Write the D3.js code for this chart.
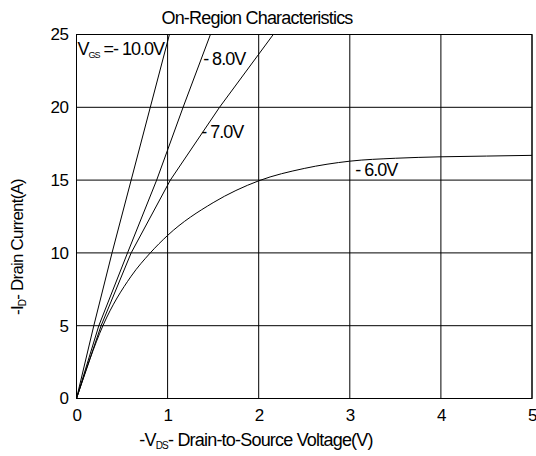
<!DOCTYPE html>
<html>
<head>
<meta charset="utf-8">
<script src="https://cdn.jsdelivr.net/npm/d3@7"></script>
<style>
  body { margin: 0; background: #fff; }
  text { font-family: "Liberation Sans", Arial, sans-serif; fill: #000; }
</style>
</head>
<body>
<div id="chart"></div>
<script>
// curves: [Vds, Id]
var vgs10 = [[0, 0], [0.19, 5], [0.39, 10], [0.60, 15], [0.81, 20], [1.02, 25]];
var vgs8 = [[0, 0], [0.245, 5], [0.56, 10], [0.88, 15], [1.17, 20], [1.47, 25]];
var vgs7 = [[0, 0], [0.27, 5], [0.60, 10], [1.03, 15], [1.57, 20], [2.16, 25]];
var vgs6 = [[0, 0], [0.29, 5], [0.6, 8.4], [0.81, 10], [1, 11.2], [1.5, 13.45], [2, 14.95], [2.5, 15.8],
            [3, 16.3], [3.5, 16.5], [4, 16.6], [4.5, 16.65], [5, 16.7]];
var xTicks = [0, 1, 2, 3, 4, 5];
var yTicks = [0, 5, 10, 15, 20, 25];
var labels = [
    { v: 1.39, i: 22.9, text: "- 8.0V" },
    { v: 1.37, i: 17.9, text: "- 7.0V" },
    { v: 3.06, i: 15.3, text: "- 6.0V" }
];

var width = 536, height = 456;
var pLeft = 76.5, pRight = 532, pTop = 34.5, pBottom = 398.5;

var svg = d3.select("#chart").append("svg")
    .attr("width", width)
    .attr("height", height);

var x = d3.scaleLinear().domain([0, 5]).range([pLeft, pRight]);
var y = d3.scaleLinear().domain([0, 25]).range([pBottom, pTop]);

// grid
svg.append("g").selectAll("line")
    .data(xTicks)
    .enter().append("line")
    .attr("x1", function (d) { return x(d); })
    .attr("x2", function (d) { return x(d); })
    .attr("y1", pTop).attr("y2", pBottom)
    .attr("stroke", "#000").attr("stroke-width", 1);
svg.append("g").selectAll("line")
    .data(yTicks)
    .enter().append("line")
    .attr("y1", function (d) { return y(d); })
    .attr("y2", function (d) { return y(d); })
    .attr("x1", pLeft).attr("x2", pRight)
    .attr("stroke", "#000").attr("stroke-width", 1);

// axes (labels only)
svg.append("g")
    .attr("transform", "translate(0," + pBottom + ")")
    .call(d3.axisBottom(x).tickValues(xTicks).tickFormat(d3.format("d")).tickSize(0).tickPadding(10));
svg.append("g")
    .attr("transform", "translate(" + pLeft + ",0)")
    .call(d3.axisLeft(y).tickValues(yTicks).tickFormat(d3.format("d")).tickSize(0).tickPadding(8));
svg.selectAll(".domain").remove();
svg.selectAll(".tick text")
    .style("font-family", "'Liberation Sans', Arial, sans-serif")
    .style("font-size", "17px")
    .style("letter-spacing", "-0.5px")
    .attr("fill", "#000");

// curves
var line = d3.line()
    .x(function (d) { return x(d[0]); })
    .y(function (d) { return y(d[1]); });
var curvy = d3.line()
    .curve(d3.curveMonotoneX)
    .x(function (d) { return x(d[0]); })
    .y(function (d) { return y(d[1]); });

svg.append("clipPath").attr("id", "plot")
    .append("rect")
    .attr("x", pLeft).attr("y", pTop)
    .attr("width", pRight - pLeft).attr("height", pBottom - pTop);

var g = svg.append("g").attr("clip-path", "url(#plot)");
[vgs10, vgs8, vgs7].forEach(function (c) {
    g.append("path").attr("d", line(c))
        .attr("fill", "none").attr("stroke", "#000").attr("stroke-width", 1);
});
g.append("path").attr("d", curvy(vgs6))
    .attr("fill", "none").attr("stroke", "#000").attr("stroke-width", 1);

// frame
svg.append("rect")
    .attr("x", pLeft).attr("y", pTop)
    .attr("width", pRight - pLeft).attr("height", pBottom - pTop)
    .attr("fill", "none").attr("stroke", "#000").attr("stroke-width", 1);

// curve labels
svg.selectAll(".clabel")
    .data(labels)
    .enter().append("text")
    .attr("class", "clabel")
    .attr("x", function (d) { return x(d.v); })
    .attr("y", function (d) { return y(d.i); })
    .style("font-size", "18px")
    .style("letter-spacing", "-1px")
    .text(function (d) { return d.text; });

var vg = svg.append("text")
    .attr("x", x(0.01)).attr("y", y(23.6))
    .style("font-size", "18px")
    .style("letter-spacing", "-1px");
vg.append("tspan").text("V");
vg.append("tspan").attr("dy", 3).style("font-size", "9px").text("GS");
vg.append("tspan").attr("dy", -3).text("\u00a0=- 10.0V");

// title
svg.append("text")
    .attr("x", 257).attr("y", 24)
    .attr("text-anchor", "middle")
    .style("font-size", "18px")
    .style("letter-spacing", "-0.8px")
    .text("On-Region Characteristics");

// x title
var xt = svg.append("text")
    .attr("x", 256).attr("y", 446)
    .attr("text-anchor", "middle")
    .style("font-size", "18px")
    .style("letter-spacing", "-0.8px");
xt.append("tspan").text("-V");
xt.append("tspan").attr("dy", 3).style("font-size", "10px").text("DS");
xt.append("tspan").attr("dy", -3).text("- Drain-to-Source Voltage(V)");

// y title
var yt = svg.append("text")
    .attr("transform", "translate(23,247) rotate(-90)")
    .attr("text-anchor", "middle")
    .style("font-size", "17px")
    .style("letter-spacing", "-0.8px");
yt.append("tspan").text("-I");
yt.append("tspan").attr("dy", 3).style("font-size", "10px").text("D");
yt.append("tspan").attr("dy", -3).text("- Drain Current(A)");
</script>
</body>
</html>
